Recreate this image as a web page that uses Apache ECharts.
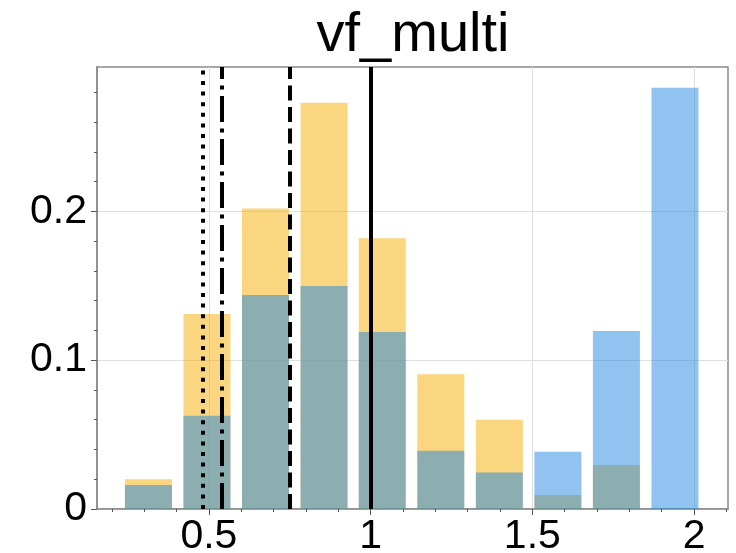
<!DOCTYPE html>
<html>
<head>
<meta charset="utf-8">
<script src="https://cdn.jsdelivr.net/npm/echarts@6/dist/echarts.min.js"></script>
<style>
  html, body { margin: 0; padding: 0; background: #fff; }
  #chart { width: 736px; height: 553px; }
</style>
</head>
<body>
<div id="chart"></div>
<script>
// bin centres of the histogram
const binCenters = [0.313, 0.494, 0.675, 0.856, 1.036, 1.217, 1.398, 1.579, 1.760, 1.941]
// orange histogram (drawn first)
const orangeValues = [0.020, 0.131, 0.202, 0.273, 0.182, 0.0905, 0.060, 0.0094, 0.0296, 0]
// blue histogram (drawn on top)
const blueValues = [0.0161, 0.0627, 0.1438, 0.1499, 0.119, 0.0392, 0.0246, 0.0385, 0.1196, 0.283]

// reference lines
const refLines = [
  { name: 'dotted', x: 0.482 },
  { name: 'dashdot', x: 0.542 },
  { name: 'dashed', x: 0.751 },
  { name: 'solid', x: 1.0 }
]

const xTicks = [0.5, 1, 1.5, 2]
const xMinorTicks = [0.2, 0.3, 0.4, 0.6, 0.7, 0.8, 0.9, 1.1, 1.2, 1.3, 1.4, 1.6, 1.7, 1.8, 1.9, 2.1]
const yTicks = [0, 0.1, 0.2]
const yMinorTicks = [0.02, 0.04, 0.06, 0.08, 0.12, 0.14, 0.16, 0.18, 0.22, 0.24, 0.26, 0.28]

const FONT = '"Liberation Sans", Arial, sans-serif'

const dashStyles = {
  dotted: [4, 6.6],
  dashdot: [26, 6.5, 4, 6.5],
  dashed: [15, 6.5],
  solid: 'solid'
}

const getOption = () => {
  const pairs = (vals) => binCenters.map((c, i) => [c, vals[i]])

  return {
    animation: false,
    title: {
      text: 'vf_multi',
      left: 408,
      textAlign: 'center',
      top: 3,
      textStyle: { fontFamily: FONT, fontSize: 56, fontWeight: 'normal', color: '#000' }
    },
    grid: {
      left: 97, right: 8, top: 67, bottom: 44,
      outerBoundsMode: 'none',
      containLabel: false,
      show: true,
      borderColor: '#8a8a8a',
      borderWidth: 1.5
    },
    xAxis: [
      {
        type: 'value',
        min: 0.154,
        max: 2.105,
        axisLine: { show: true, lineStyle: { color: '#8a8a8a', width: 1.5 } },
        axisTick: { show: true, customValues: xTicks, length: 6, lineStyle: { color: '#555' } },
        axisLabel: {
          customValues: xTicks,
          margin: 7,
          fontFamily: FONT, fontSize: 41, color: '#000'
        },
        splitLine: { show: true, lineStyle: { color: '#dedede', width: 1 } }
      },
      {
        type: 'value',
        min: 0.154,
        max: 2.105,
        position: 'bottom',
        axisLine: { show: false },
        axisTick: { show: true, customValues: xMinorTicks, length: 3, lineStyle: { color: '#555' } },
        axisLabel: { show: false },
        splitLine: { show: false }
      }
    ],
    yAxis: [
      {
        type: 'value',
        min: 0,
        max: 0.297,
        axisLine: { show: true, lineStyle: { color: '#8a8a8a', width: 1.5 } },
        axisTick: { show: true, customValues: yTicks, length: 6, lineStyle: { color: '#555' } },
        axisLabel: {
          customValues: yTicks,
          margin: 10,
          padding: [24, 0, 0, 0],
          fontFamily: FONT, fontSize: 41, color: '#000'
        },
        splitLine: { show: true, lineStyle: { color: '#dedede', width: 1 } }
      },
      {
        type: 'value',
        min: 0,
        max: 0.297,
        position: 'left',
        axisLine: { show: false },
        axisTick: { show: true, customValues: yMinorTicks, length: 3, lineStyle: { color: '#555' } },
        axisLabel: { show: false },
        splitLine: { show: false }
      }
    ],
    series: [
      {
        name: 'orange',
        type: 'bar',
        barWidth: 47,
        barGap: '-100%',
        itemStyle: { color: 'rgba(243,173,0,0.5)' },
        data: pairs(orangeValues)
      },
      {
        name: 'blue',
        type: 'bar',
        barWidth: 47,
        barGap: '-100%',
        itemStyle: { color: 'rgba(33,135,225,0.5)' },
        data: pairs(blueValues),
        markLine: {
          silent: true,
          symbol: 'none',
          label: { show: false },
          z: 10,
          data: refLines.map(l => ({
            xAxis: l.x,
            lineStyle: { color: '#000', width: 4, type: dashStyles[l.name] }
          }))
        }
      }
    ]
  }
}

window.addEventListener('load', () => {
  const chart = echarts.init(document.getElementById('chart'))
  chart.setOption(getOption())
})
</script>
</body>
</html>
